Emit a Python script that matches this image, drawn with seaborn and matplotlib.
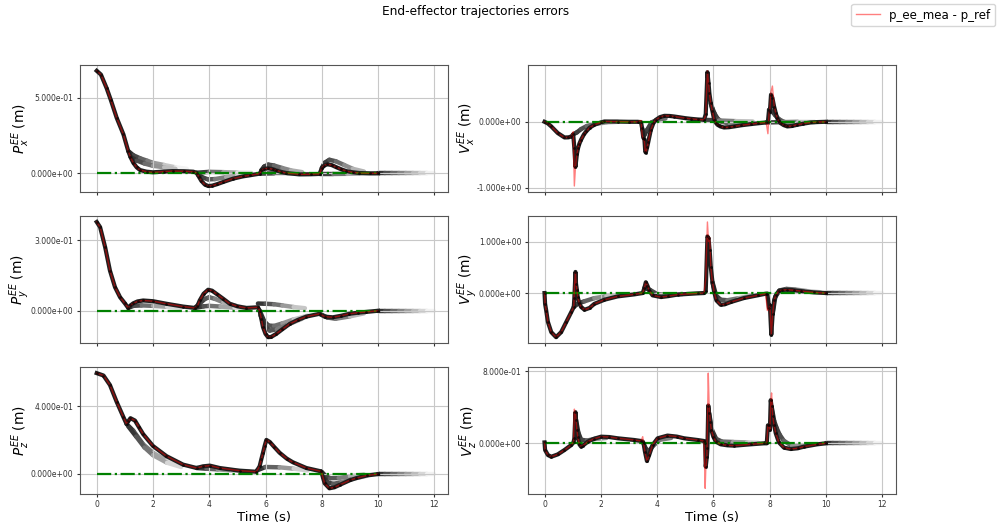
import matplotlib
matplotlib.use("Agg")
import matplotlib.pyplot as plt
import numpy as np
import seaborn as sns
from matplotlib.collections import LineCollection
from matplotlib.ticker import FormatStrFormatter

# measured error samples: (time, p_ee_mea - p_ref[, horizon start])
px_points = [
    (0.0, 0.68), (0.15, 0.655), (0.35, 0.566), (0.5, 0.487), (0.71, 0.368),
    (0.95, 0.258), (1.12, 0.148), (1.2, 0.108), (1.3, 0.07), (1.42, 0.04),
    (1.54, 0.022), (1.77, 0.011), (2.0, 0.007), (2.4, 0.012), (2.7, 0.015),
    (3.1, 0.014), (3.43, 0.011), (3.55, 0.004), (3.64, -0.025), (3.72, -0.05),
    (3.84, -0.074), (3.96, -0.084), (4.1, -0.082), (4.26, -0.073), (4.5, -0.057),
    (4.85, -0.035), (5.2, -0.02), (5.44, -0.013), (5.8, -0.002), (5.85, 0.02),
    (5.95, 0.03), (6.09, 0.033), (6.25, 0.028), (6.38, 0.02), (6.55, 0.01),
    (6.74, 0.002), (7.2, -0.007), (7.6, -0.006), (7.92, -0.004), (8.0, 0.035),
    (8.08, 0.052), (8.2, 0.06), (8.35, 0.055), (8.5, 0.042), (8.7, 0.026),
    (8.87, 0.015), (9.1, 0.007), (9.34, 0.002), (9.7, 0.0), (10.0, 0.0),
]
py_points = [
    (0.0, 0.379), (0.12, 0.357), (0.3, 0.271), (0.47, 0.171), (0.65, 0.1),
    (0.83, 0.057), (1.0, 0.031), (1.12, 0.011), (1.2, 0.022), (1.3, 0.031),
    (1.45, 0.039), (1.65, 0.043), (2.0, 0.04), (2.48, 0.029), (3.07, 0.017),
    (3.49, 0.011), (3.58, 0.02), (3.66, 0.043), (3.8, 0.072), (3.96, 0.089),
    (4.1, 0.085), (4.26, 0.071), (4.5, 0.05), (4.73, 0.029), (5.0, 0.018),
    (5.32, 0.011), (5.73, 0.014), (5.79, 0.0), (5.85, -0.035), (5.91, -0.071),
    (6.0, -0.1), (6.09, -0.114), (6.2, -0.113), (6.38, -0.1), (6.6, -0.08),
    (6.86, -0.057), (7.15, -0.04), (7.45, -0.026), (7.92, -0.014), (8.1, -0.026),
    (8.39, -0.029), (8.7, -0.022), (8.98, -0.014), (9.3, -0.009), (9.57, -0.006),
    (10.0, -0.001),
]
pz_points = [
    (0.0, 0.594), (0.24, 0.58), (0.47, 0.524), (0.71, 0.424), (0.95, 0.334),
    (1.06, 0.294), (1.12, 0.31), (1.2, 0.328), (1.36, 0.314), (1.5, 0.275),
    (1.65, 0.234), (2.0, 0.164), (2.48, 0.104), (3.07, 0.054), (3.55, 0.034),
    (3.78, 0.044), (4.02, 0.048), (4.37, 0.034), (5.08, 0.018), (5.67, 0.012),
    (5.79, 0.044), (5.85, 0.085), (5.91, 0.124), (5.97, 0.165), (6.03, 0.2),
    (6.15, 0.188), (6.3, 0.16), (6.5, 0.124), (6.75, 0.09), (6.97, 0.068),
    (7.45, 0.034), (7.98, 0.014), (8.1, -0.056), (8.27, -0.086), (8.45, -0.08),
    (8.63, -0.066), (9.0, -0.038), (9.22, -0.026), (9.6, -0.01), (10.0, -0.002),
]
# velocity panels: (time, measured, horizon start)
vx_points = [
    (0.0, 0.0, 0.0), (0.12, -0.025, -0.025), (0.24, -0.07, -0.07), (0.47, -0.17, -0.17),
    (0.71, -0.237, -0.237), (0.85, -0.235, -0.235), (0.95, -0.222, -0.222),
    (1.02, -0.15, -0.19), (1.06, -0.97, -0.4), (1.1, -0.68, -0.68), (1.15, -0.49, -0.49),
    (1.19, -0.4, -0.4), (1.24, -0.33, -0.33), (1.3, -0.27, -0.27), (1.4, -0.19, -0.19),
    (1.48, -0.146, -0.146), (1.6, -0.09, -0.09), (1.77, -0.045, -0.045), (2.0, -0.01, -0.01),
    (2.13, 0.005, 0.005), (2.6, 0.003, 0.003), (3.0, 0.0, 0.0), (3.31, 0.0, 0.0),
    (3.43, 0.02, -0.005), (3.47, -0.2, -0.1), (3.51, -0.26, -0.24), (3.55, -0.3, -0.26),
    (3.58, -0.45, -0.45), (3.6, -0.465, -0.465), (3.65, -0.38, -0.38), (3.69, -0.3, -0.3),
    (3.78, -0.12, -0.12), (3.87, -0.02, -0.02), (3.96, 0.03, 0.03), (4.1, 0.07, 0.07),
    (4.26, 0.09, 0.09), (4.45, 0.088, 0.088), (4.61, 0.08, 0.08), (5.0, 0.055, 0.055),
    (5.2, 0.045, 0.045), (5.45, 0.035, 0.035), (5.67, 0.03, 0.03), (5.73, 0.1, 0.116),
    (5.79, 0.77, 0.75), (5.83, 0.586, 0.586), (5.86, 0.43, 0.43), (5.91, 0.28, 0.28),
    (5.97, 0.157, 0.157), (6.03, 0.03, 0.03), (6.1, -0.02, -0.02), (6.15, -0.045, -0.045),
    (6.25, -0.07, -0.07), (6.38, -0.086, -0.086), (6.55, -0.082, -0.082),
    (6.74, -0.07, -0.07), (7.0, -0.052, -0.052), (7.33, -0.035, -0.035),
    (7.6, -0.022, -0.022), (7.88, -0.01, -0.01), (7.94, -0.18, 0.0), (7.98, 0.12, 0.18),
    (8.01, 0.2, 0.15), (8.05, 0.45, 0.41), (8.1, 0.54, 0.36), (8.16, 0.25, 0.23),
    (8.22, 0.13, 0.13), (8.27, 0.056, 0.056), (8.33, 0.01, 0.01), (8.39, -0.02, -0.02),
    (8.5, -0.05, -0.05), (8.63, -0.07, -0.07), (8.8, -0.063, -0.063), (8.98, -0.045, -0.045),
    (9.2, -0.028, -0.028), (9.46, -0.01, -0.01), (9.7, -0.004, -0.004), (10.0, 0.0, 0.0),
]
vy_points = [
    (0.0, 0.0, 0.0), (0.02, -0.21, -0.21), (0.06, -0.34, -0.34), (0.12, -0.56, -0.56),
    (0.24, -0.76, -0.76), (0.41, -0.857, -0.857), (0.59, -0.76, -0.76), (0.77, -0.565, -0.565),
    (0.95, -0.37, -0.37), (1.04, -0.27, -0.27), (1.06, 0.1, -0.1), (1.1, 0.4, 0.41),
    (1.12, 0.18, 0.18), (1.15, 0.065, 0.065), (1.18, -0.08, -0.08), (1.24, -0.2, -0.2),
    (1.3, -0.27, -0.27), (1.42, -0.325, -0.325), (1.6, -0.29, -0.29), (1.77, -0.21, -0.21),
    (2.13, -0.13, -0.13), (2.6, -0.065, -0.065), (3.19, -0.026, -0.026), (3.49, 0.0, 0.0),
    (3.55, 0.1, 0.1), (3.6, 0.21, 0.21), (3.66, 0.14, 0.14), (3.72, 0.05, 0.05),
    (3.84, -0.045, -0.045), (4.14, -0.078, -0.078), (4.4, -0.06, -0.06), (4.73, -0.03, -0.03),
    (5.44, -0.006, -0.006), (5.67, 0.0, 0.0), (5.73, 0.28, 0.03), (5.79, 1.38, 1.1),
    (5.83, 1.0, 1.06), (5.87, 1.08, 0.83), (5.91, 0.5, 0.5), (5.97, 0.21, 0.21),
    (6.03, 0.02, 0.02), (6.11, -0.143, -0.143), (6.26, -0.227, -0.227), (6.4, -0.22, -0.22),
    (6.62, -0.175, -0.175), (7.09, -0.097, -0.097), (7.57, -0.045, -0.045),
    (7.86, -0.013, -0.013), (7.92, -0.34, -0.01), (7.98, -0.3, -0.3), (8.01, -0.24, -0.24),
    (8.06, -0.81, -0.81), (8.11, -0.4, -0.4), (8.16, -0.143, -0.143), (8.22, -0.045, -0.045),
    (8.33, 0.039, 0.039), (8.45, 0.058, 0.058), (8.63, 0.065, 0.065), (8.85, 0.055, 0.055),
    (9.1, 0.039, 0.039), (9.57, 0.013, 0.013), (10.0, 0.0, 0.0),
]
vz_points = [
    (0.0, 0.01, 0.01), (0.02, -0.074, -0.074), (0.12, -0.13, -0.13), (0.24, -0.149, -0.149),
    (0.47, -0.123, -0.123), (0.71, -0.074, -0.074), (0.95, -0.019, -0.019), (1.03, 0.011, 0.011),
    (1.06, 0.38, 0.056), (1.1, 0.33, 0.346), (1.12, 0.26, 0.26), (1.15, 0.15, 0.15),
    (1.18, 0.074, 0.074), (1.24, -0.011, -0.011), (1.3, -0.037, -0.037), (1.36, -0.026, -0.026),
    (1.54, 0.019, 0.019), (1.75, 0.05, 0.05), (2.01, 0.074, 0.074), (2.3, 0.07, 0.07),
    (2.6, 0.056, 0.056), (3.19, 0.037, 0.037), (3.43, 0.026, 0.026), (3.49, 0.074, 0.02),
    (3.52, 0.0, 0.0), (3.57, -0.093, -0.093), (3.64, -0.197, -0.197), (3.72, -0.13, -0.13),
    (3.84, -0.019, -0.019), (4.02, 0.056, 0.056), (4.37, 0.086, 0.086), (4.7, 0.075, 0.075),
    (4.96, 0.056, 0.056), (5.44, 0.037, 0.037), (5.67, 0.026, 0.026), (5.71, -0.5, 0.0),
    (5.73, -0.3, -0.26), (5.77, -0.149, -0.149), (5.79, 0.2, -0.056), (5.82, 0.78, 0.42),
    (5.85, 0.43, 0.335), (5.89, 0.24, 0.24), (5.93, 0.149, 0.149), (6.0, 0.074, 0.074),
    (6.09, 0.019, 0.019), (6.26, -0.011, -0.011), (6.5, -0.022, -0.022), (6.74, -0.026, -0.026),
    (7.33, -0.011, -0.011), (7.8, 0.0, 0.0), (7.9, 0.0, 0.0), (7.94, 0.2, 0.2),
    (7.98, 0.2, 0.2), (8.01, 0.15, 0.15), (8.04, 0.45, 0.48), (8.07, 0.56, 0.41),
    (8.11, 0.3, 0.3), (8.16, 0.2, 0.2), (8.22, 0.11, 0.11), (8.33, 0.011, 0.011),
    (8.51, -0.048, -0.048), (8.75, -0.063, -0.063), (9.0, -0.055, -0.055),
    (9.22, -0.037, -0.037), (9.69, -0.011, -0.011), (10.0, 0.0, 0.0),
]

# predicted horizons that separate from the measured curve: (time, value)
px_ghosts = [
    [(1.12, 0.148), (1.3, 0.12), (1.54, 0.1), (1.8, 0.083), (2.0, 0.07), (2.4, 0.055), (2.8, 0.04), (3.2, 0.03)],
    [(1.2, 0.11), (1.42, 0.085), (1.7, 0.065), (2.0, 0.05), (2.4, 0.04), (2.8, 0.03)],
    [(3.55, 0.004), (4.0, 0.01), (4.5, 0.008), (5.0, 0.005), (5.5, 0.003)],
    [(3.6, -0.01), (3.8, -0.03), (3.96, -0.04), (4.2, -0.038), (4.6, -0.025), (5.0, -0.015), (5.5, -0.008)],
    [(5.8, -0.002), (6.3, 0.0), (6.8, 0.0), (7.3, -0.002), (7.8, -0.002)],
    [(5.85, 0.02), (5.95, 0.045), (6.1, 0.058), (6.3, 0.052), (6.6, 0.035), (6.9, 0.02), (7.3, 0.008)],
    [(7.92, -0.004), (8.4, -0.004), (8.9, -0.003), (9.4, -0.002), (9.9, -0.001)],
    [(8.0, 0.035), (8.1, 0.07), (8.27, 0.09), (8.5, 0.08), (8.8, 0.055), (9.1, 0.03), (9.5, 0.012)],
]
py_ghosts = [
    [(1.12, 0.011), (1.3, 0.02), (1.6, 0.022), (2.0, 0.02), (2.5, 0.016), (3.0, 0.012)],
    [(3.49, 0.011), (3.66, 0.03), (3.85, 0.05), (4.0, 0.057), (4.2, 0.05), (4.5, 0.035), (5.0, 0.018), (5.4, 0.01)],
    [(3.49, 0.011), (3.8, 0.018), (4.0, 0.02), (4.4, 0.017), (4.9, 0.012), (5.4, 0.008)],
    [(5.73, 0.03), (6.0, 0.029), (6.3, 0.027), (6.6, 0.022), (7.0, 0.015), (7.4, 0.01)],
    [(5.79, 0.0), (5.95, -0.045), (6.1, -0.064), (6.3, -0.066), (6.6, -0.055), (7.0, -0.038), (7.5, -0.022)],
    [(5.82, -0.02), (6.0, -0.07), (6.15, -0.086), (6.4, -0.08), (6.8, -0.06), (7.3, -0.035)],
    [(7.92, -0.014), (8.2, -0.03), (8.5, -0.035), (9.0, -0.025), (9.5, -0.012)],
]
pz_ghosts = [
    [(1.06, 0.294), (1.3, 0.254), (1.65, 0.174), (2.0, 0.124), (2.48, 0.078), (2.95, 0.054)],
    [(1.12, 0.28), (1.4, 0.22), (1.7, 0.155), (2.0, 0.11), (2.5, 0.065), (3.0, 0.04)],
    [(3.55, 0.034), (3.9, 0.03), (4.3, 0.026), (4.8, 0.02), (5.4, 0.015)],
    [(5.7, 0.02), (6.0, 0.04), (6.5, 0.038), (7.0, 0.03), (7.5, 0.02)],
    [(7.98, 0.014), (8.15, -0.015), (8.3, -0.026), (8.6, -0.025), (9.0, -0.015), (9.5, -0.005)],
    [(8.05, -0.02), (8.2, -0.05), (8.4, -0.06), (8.7, -0.05), (9.1, -0.03), (9.6, -0.012)],
]
vx_ghosts = [
    [(1.02, -0.19), (1.15, -0.16), (1.3, -0.11), (1.5, -0.065), (1.8, -0.03), (2.2, -0.01), (2.6, 0.0)],
    [(3.47, -0.1), (3.55, -0.2), (3.65, -0.12), (3.8, -0.01), (4.0, 0.03), (4.3, 0.05)],
    [(5.91, 0.28), (5.97, 0.2), (6.05, 0.12), (6.15, 0.05), (6.3, 0.0), (6.6, -0.03), (7.0, -0.03)],
    [(7.98, 0.18), (8.1, 0.15), (8.2, 0.1), (8.33, 0.04), (8.5, 0.0), (8.8, -0.03), (9.2, -0.02)],
    [(5.67, 0.03), (6.2, 0.02), (6.8, 0.01), (7.4, 0.005)],
    [(7.88, -0.01), (8.4, -0.005), (9.0, 0.0), (9.6, 0.0)],
]
vy_ghosts = [
    [(1.04, -0.27), (1.2, -0.2), (1.42, -0.16), (1.77, -0.1), (2.2, -0.06), (2.7, -0.03), (3.0, -0.02)],
    [(3.55, 0.1), (3.75, 0.06), (4.0, -0.02), (4.4, -0.04), (4.9, -0.02)],
    [(5.97, 0.21), (6.1, -0.05), (6.26, -0.13), (6.5, -0.14), (6.9, -0.1), (7.4, -0.05)],
    [(8.11, -0.4), (8.2, -0.08), (8.35, 0.05), (8.6, 0.08), (8.9, 0.07), (9.3, 0.04), (9.8, 0.015)],
]
vz_ghosts = [
    [(1.12, 0.26), (1.2, 0.12), (1.3, 0.04), (1.5, 0.03), (1.8, 0.05), (2.2, 0.06)],
    [(3.52, 0.0), (3.6, -0.06), (3.7, -0.09), (3.85, -0.03), (4.1, 0.04), (4.5, 0.06)],
    [(5.85, 0.335), (5.95, 0.15), (6.1, 0.05), (6.3, 0.02), (6.7, 0.015), (7.2, 0.01), (7.6, 0.005)],
    [(8.07, 0.41), (8.16, 0.25), (8.25, 0.17), (8.35, 0.1), (8.5, 0.03), (8.8, -0.03), (9.3, -0.03)],
]

# last horizon, running past the end of the experiment
tail_t = [10.0, 10.25, 10.5, 10.75, 11.0, 11.25, 11.5, 11.75, 12.0]
tail_v = [0.0, 0.0, 0.0, 0.0, 0.0, 0.0, 0.0, 0.0, 0.0]

ref_t = [0.0, 10.0]
ref_v = [0.0, 0.0]

panels = [
    (px_points, px_ghosts, r"$P^{EE}_x$ (m)", [0.0, 0.5]),
    (vx_points, vx_ghosts, r"$V^{EE}_x$ (m)", [-1.0, 0.0]),
    (py_points, py_ghosts, r"$P^{EE}_y$ (m)", [0.0, 0.3]),
    (vy_points, vy_ghosts, r"$V^{EE}_y$ (m)", [0.0, 1.0]),
    (pz_points, pz_ghosts, r"$P^{EE}_z$ (m)", [0.0, 0.4]),
    (vz_points, vz_ghosts, r"$V^{EE}_z$ (m)", [0.0, 0.8]),
]

HORIZON = 2.0


def draw_horizon(ax, ts, vs):
    ts = np.asarray(ts, dtype=float)
    pts = np.column_stack([ts, vs])
    segs = np.stack([pts[:-1], pts[1:]], axis=1)
    frac = np.clip(((ts[:-1] + ts[1:]) / 2 - ts[0]) / HORIZON, 0, 1)
    colors = plt.cm.gray(0.15 + 0.85 * frac)
    lc = LineCollection(segs, colors=colors, linewidths=3.2, capstyle="round", zorder=1)
    ax.add_collection(lc)


fig, axes = plt.subplots(3, 2, figsize=(9.98, 5.29), dpi=100, sharex=True)
fig.subplots_adjust(left=0.08, right=0.898, bottom=0.066, top=0.877,
                    wspace=0.215, hspace=0.193)

red_handle = None
for ax, (points, ghosts, ylabel, yticks) in zip(axes.flat, panels):
    t = [p[0] for p in points]
    mea = [p[1] for p in points]
    est = [p[-1] for p in points]

    for g in ghosts:
        draw_horizon(ax, [q[0] for q in g], [q[1] for q in g])
    draw_horizon(ax, tail_t, tail_v)

    sns.lineplot(x=t, y=est, ax=ax, color="0.12", lw=3.0, sort=False,
                 estimator=None, zorder=2)
    sns.lineplot(x=ref_t, y=ref_v, ax=ax, color="green", lw=1.6, ls="-.",
                 sort=False, estimator=None, zorder=3)
    sns.lineplot(x=t, y=mea, ax=ax, color="red", lw=1.0, alpha=0.5,
                 sort=False, estimator=None, zorder=4)
    red_handle = ax.lines[-1]
    sns.scatterplot(x=t, y=est, ax=ax, color="black", s=4, linewidth=0,
                    zorder=5, alpha=0.7)

    ax.set_yticks(yticks)
    ax.yaxis.set_major_formatter(FormatStrFormatter("%.3e"))
    ax.tick_params(labelsize=5.5, colors="#333333", length=2.5, pad=2)
    for sp in ax.spines.values():
        sp.set_color("#555555")
    ax.set_ylabel(ylabel, fontsize=9.8, labelpad=-1)
    ax.grid(True, color="#c8c8c8", lw=0.8)
    ax.set_xticks([0, 2, 4, 6, 8, 10, 12])
    ax.set_xlim(-0.6, 12.5)
    if ax.get_legend() is not None:
        ax.get_legend().remove()

for ax in axes[-1]:
    ax.set_xlabel("Time (s)", fontsize=9.5, labelpad=1)

fig.suptitle("End-effector trajectories errors", fontsize=8.7, x=0.477, y=0.99)
fig.legend([red_handle], ["p_ee_mea - p_ref"], loc="upper right",
           bbox_to_anchor=(1.003, 1.004), fontsize=8.5)

fig.savefig("out.png", dpi=100)
